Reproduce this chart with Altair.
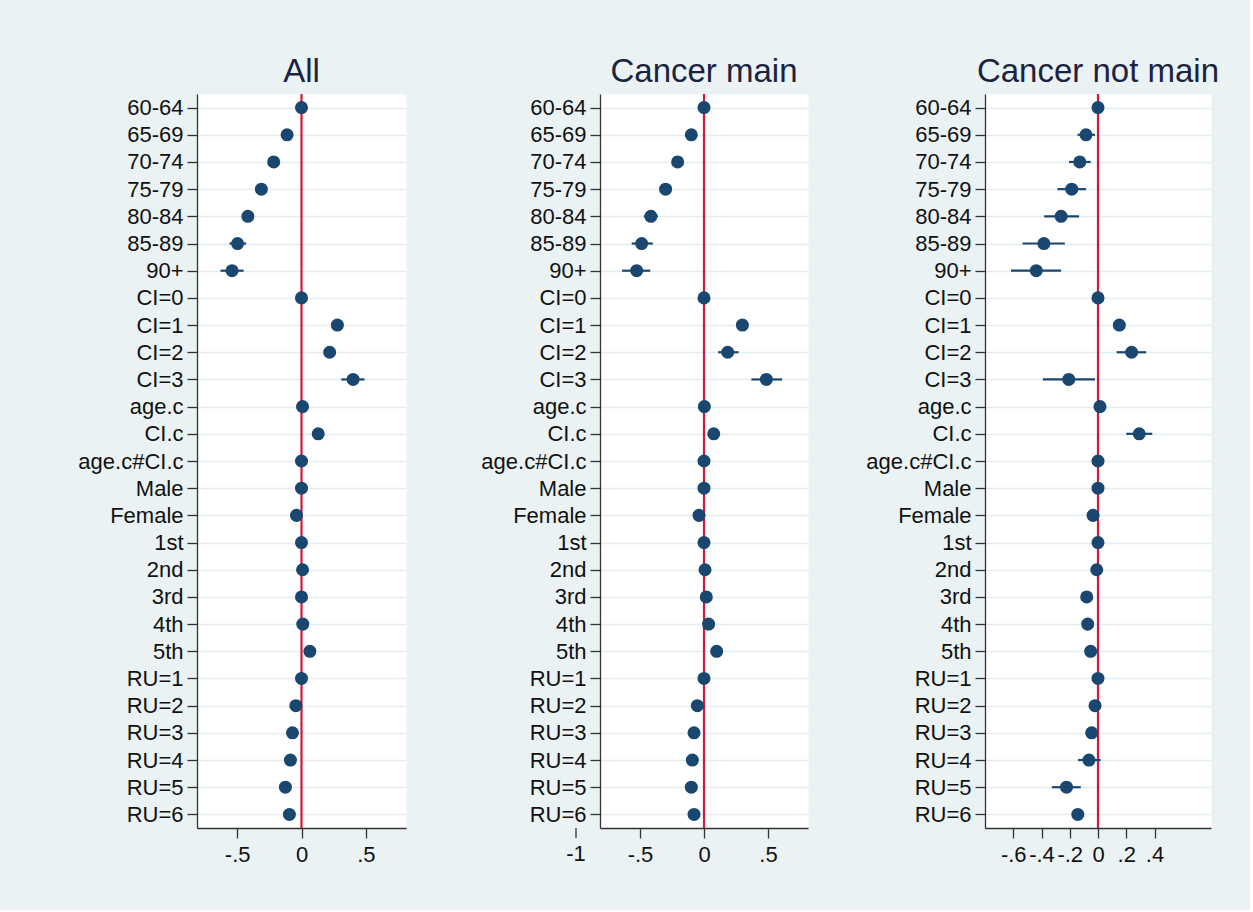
import altair as alt
import pandas as pd

# Model terms, top to bottom
terms = ["60-64", "65-69", "70-74", "75-79", "80-84", "85-89", "90+",
         "CI=0", "CI=1", "CI=2", "CI=3", "age.c", "CI.c", "age.c#CI.c",
         "Male", "Female", "1st", "2nd", "3rd", "4th", "5th",
         "RU=1", "RU=2", "RU=3", "RU=4", "RU=5", "RU=6"]

# Panel "All": coefficient estimates and 95% CI bounds
all_est = [0, -0.112, -0.216, -0.312, -0.417, -0.497, -0.540,
           0, 0.279, 0.219, 0.401, 0.008, 0.130, 0,
           0, -0.039, 0, 0.008, 0, 0.010, 0.065,
           0, -0.044, -0.070, -0.086, -0.125, -0.094]
all_lo = [0, -0.130, -0.236, -0.336, -0.447, -0.560, -0.630,
          0, 0.260, 0.195, 0.310, 0.005, 0.110, -0.002,
          0, -0.050, 0, -0.006, -0.014, -0.005, 0.048,
          0, -0.058, -0.086, -0.103, -0.145, -0.112]
all_hi = [0, -0.094, -0.196, -0.288, -0.387, -0.430, -0.450,
          0, 0.298, 0.243, 0.490, 0.011, 0.150, 0.002,
          0, -0.028, 0, 0.022, 0.014, 0.025, 0.082,
          0, -0.030, -0.054, -0.069, -0.105, -0.076]

# Panel "Cancer main"
main_est = [0, -0.099, -0.206, -0.300, -0.415, -0.487, -0.526,
            0, 0.300, 0.185, 0.487, 0.003, 0.076, 0,
            0, -0.039, 0, 0.008, 0.018, 0.036, 0.099,
            0, -0.052, -0.078, -0.091, -0.099, -0.078]
main_lo = [0, -0.125, -0.235, -0.335, -0.470, -0.565, -0.640,
           0, 0.270, 0.110, 0.370, 0.000, 0.050, -0.003,
           0, -0.055, 0, -0.012, -0.003, 0.013, 0.075,
           0, -0.072, -0.100, -0.113, -0.122, -0.100]
main_hi = [0, -0.073, -0.177, -0.265, -0.360, -0.400, -0.420,
           0, 0.330, 0.270, 0.610, 0.006, 0.100, 0.003,
           0, -0.023, 0, 0.028, 0.039, 0.059, 0.123,
           0, -0.032, -0.056, -0.069, -0.076, -0.056]

# Panel "Cancer not main"
notmain_est = [0, -0.085, -0.129, -0.186, -0.261, -0.383, -0.437,
               0, 0.151, 0.238, -0.207, 0.014, 0.292, 0,
               0, -0.035, 0, -0.009, -0.080, -0.073, -0.052,
               0, -0.021, -0.045, -0.064, -0.223, -0.143]
notmain_lo = [0, -0.145, -0.205, -0.287, -0.381, -0.534, -0.616,
              0, 0.115, 0.132, -0.390, 0.008, 0.200, -0.003,
              0, -0.060, 0, -0.045, -0.115, -0.108, -0.088,
              0, -0.050, -0.080, -0.141, -0.327, -0.185]
notmain_hi = [0, -0.021, -0.052, -0.085, -0.134, -0.235, -0.261,
              0, 0.187, 0.341, -0.021, 0.020, 0.384, 0.003,
              0, -0.010, 0, 0.027, -0.045, -0.038, -0.016,
              0, 0.008, -0.010, 0.019, -0.122, -0.100]

NAVY = "#1A476F"
RED = "#D0173E"
INK = "#111111"
PLOT_H = 734
FONT = "Liberation Sans"
XLAB = 22
YLAB = 22
LABEL_EXPR = "replace(toString(datum.value), '0.', '.')"


def panel(title, est, lo, hi, domain, width, ticks, extent, outside_ticks=()):
    df = pd.DataFrame({"term": terms, "est": est, "lo": lo, "hi": hi})
    xscale = alt.Scale(domain=domain, nice=False, zero=False)
    yscale = alt.Scale(type="point", domain=terms, padding=0.5)
    xaxis = alt.Axis(values=ticks, labelExpr=LABEL_EXPR, title=None, grid=False,
                     labelFontSize=XLAB, labelPadding=6, tickSize=10,
                     labelFlush=False, labelOverlap=False, labelBound=False)
    yaxis = alt.Axis(title=None, grid=True, gridColor="#E3ECEE", gridWidth=1.6,
                     labelFontSize=YLAB, labelPadding=4, tickSize=10,
                     minExtent=extent, maxExtent=extent, labelOverlap=False)
    y = alt.Y("term:N", scale=yscale, axis=yaxis, sort=terms)

    ref = alt.Chart(pd.DataFrame({"zero": [0]})).mark_rule(
        color=RED, strokeWidth=2.2
    ).encode(x=alt.X("zero:Q", scale=xscale, axis=xaxis))

    bars = alt.Chart(df).mark_rule(color=NAVY, strokeWidth=2.2).encode(
        x=alt.X("lo:Q", scale=xscale, axis=xaxis), x2="hi:Q", y=y
    )
    dots = alt.Chart(df).mark_circle(color=NAVY, size=170, opacity=1).encode(
        x=alt.X("est:Q", scale=xscale, axis=xaxis), y=y
    )
    layers = [ref, bars, dots]

    if outside_ticks:
        # tick marks that sit left of the plotted range
        odf = pd.DataFrame({"v": list(outside_ticks),
                            "lab": [str(v) for v in outside_ticks]})
        otick = alt.Chart(odf).mark_rule(color="#333333", strokeWidth=1.3).encode(
            x=alt.X("v:Q", scale=xscale, axis=xaxis),
            y=alt.value(PLOT_H), y2=alt.value(PLOT_H + 10)
        )
        olab = alt.Chart(odf).mark_text(
            font=FONT, fontSize=XLAB, color=INK, baseline="top", align="center"
        ).encode(
            x=alt.X("v:Q", scale=xscale, axis=xaxis),
            y=alt.value(PLOT_H + 16), text="lab:N"
        )
        layers += [otick, olab]

    return alt.layer(*layers).properties(
        width=width, height=PLOT_H,
        title=alt.TitleParams(title, anchor="middle", frame="group", fontSize=33,
                              font=FONT, fontWeight="normal", color="#1C2340",
                              offset=4)
    )


p1 = panel("All", all_est, all_lo, all_hi, [-0.8125, 0.8125], 209,
           [-0.5, 0, 0.5], 150)
p2 = panel("Cancer main", main_est, main_lo, main_hi, [-0.8125, 0.8125], 208,
           [-0.5, 0, 0.5], 182, outside_ticks=(-1,))
p3 = panel("Cancer not main", notmain_est, notmain_lo, notmain_hi, [-0.8, 0.8], 226,
           [-0.6, -0.4, -0.2, 0, 0.2, 0.4], 165)

chart = alt.hconcat(p1, p2, p3, spacing=10).properties(
    background="#EAF2F3",
    padding={"left": 46, "top": 55, "right": 30, "bottom": 44},
).configure_view(
    fill="white", stroke="transparent"
).configure_axis(
    labelFont=FONT, labelColor=INK, domainColor="#333333", tickColor="#333333",
    domainWidth=1.3, tickWidth=1.3
)

chart.save("out.html", embed_options={"renderer": "svg", "actions": False})
